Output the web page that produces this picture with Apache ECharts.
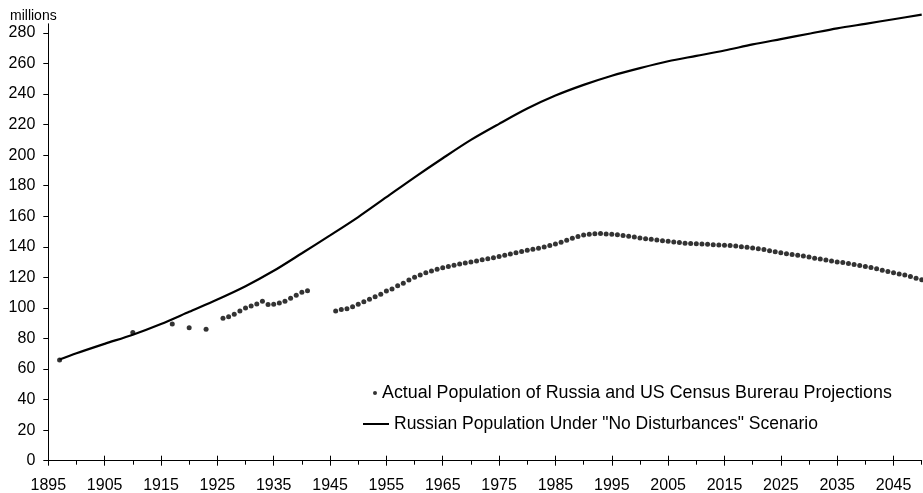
<!DOCTYPE html>
<html>
<head>
<meta charset="utf-8">
<script src="https://cdn.jsdelivr.net/npm/echarts@6/dist/echarts.min.js"></script>
<style>
html,body{margin:0;padding:0;background:#fff;}
#chart{width:923px;height:493px;}
</style>
</head>
<body>
<div id="chart"></div>
<script>
// ---- data ----
const scenarioYears = [1897, 1900, 1905, 1910, 1915, 1920, 1925, 1930, 1935, 1940, 1945, 1950, 1955, 1960, 1965, 1970, 1975, 1980, 1985, 1990, 1995, 2000, 2005, 2010, 2015, 2020, 2025, 2030, 2035, 2040, 2045, 2050];
const scenarioValues = [66.2, 70.3, 76.5, 82.5, 89.5, 97.5, 105.5, 114.2, 124.3, 135.8, 147.5, 159.5, 172.5, 185.5, 198, 210, 220.5, 230.5, 239, 246, 252, 257, 261.5, 265, 268.5, 272.5, 276, 279.5, 283, 286, 289, 292];

const popYears = [1897, 1910, 1917, 1920, 1923,
  1926, 1927, 1928, 1929, 1930, 1931, 1932, 1933, 1934, 1935, 1936, 1937, 1938, 1939, 1940, 1941,
  1946, 1947, 1948, 1949, 1950, 1951, 1952, 1953, 1954, 1955, 1956, 1957, 1958, 1959, 1960, 1961, 1962, 1963, 1964, 1965,
  1966, 1967, 1968, 1969, 1970, 1971, 1972, 1973, 1974, 1975, 1976, 1977, 1978, 1979, 1980, 1981, 1982, 1983, 1984, 1985,
  1986, 1987, 1988, 1989, 1990, 1991, 1992, 1993, 1994, 1995, 1996, 1997, 1998, 1999, 2000, 2001, 2002, 2003, 2004, 2005,
  2006, 2007, 2008, 2009, 2010, 2011, 2012, 2013, 2014, 2015, 2016, 2017, 2018, 2019, 2020, 2021, 2022, 2023, 2024, 2025,
  2026, 2027, 2028, 2029, 2030, 2031, 2032, 2033, 2034, 2035, 2036, 2037, 2038, 2039, 2040, 2041, 2042, 2043, 2044, 2045,
  2046, 2047, 2048, 2049, 2050];
const popValues = [66, 84, 89.5, 87, 86,
  93.2, 94.3, 95.8, 98, 100, 101.3, 102.6, 104.4, 102.3, 102.4, 103.2, 104.3, 106.3, 108.3, 110.2, 111.3,
  98, 98.9, 99.5, 100.8, 102.4, 104.1, 105.7, 107.4, 108.9, 111.1, 112.4, 114.6, 116.1, 118.3, 120.1, 121.6, 123.1, 124.2, 125.3, 126.3,
  127.2, 128, 128.7, 129.4, 130.1, 130.8, 131.5, 132.2, 132.9, 133.7, 134.5, 135.3, 136.2, 137, 137.7, 138.4, 139.1, 139.9, 140.8, 141.9,
  143, 144.3, 145.6, 146.8, 147.8, 148.3, 148.6, 148.8, 148.4, 148.2, 147.9, 147.4, 147, 146.4, 145.8, 145.3, 145, 144.5, 144, 143.6,
  143.2, 142.8, 142.4, 142.2, 142, 141.9, 141.7, 141.4, 141.2, 141, 140.8, 140.5, 140.1, 139.8, 139.3, 138.7, 138.2, 137.4, 136.8, 136.1,
  135.5, 134.9, 134.5, 134, 133.3, 132.6, 132, 131.3, 130.7, 130.1, 129.7, 129.1, 128.4, 127.8, 127.1, 126.4, 125.6, 124.6, 123.8, 123,
  122.2, 121.5, 120.6, 119.5, 118.5];

const xLabelYears = [1895, 1905, 1915, 1925, 1935, 1945, 1955, 1965, 1975, 1985, 1995, 2005, 2015, 2025, 2035, 2045];
const xMinorYears = [1900, 1910, 1920, 1930, 1940, 1950, 1960, 1970, 1980, 1990, 2000, 2010, 2020, 2030, 2040, 2050];
const yTickValues = [0, 20, 40, 60, 80, 100, 120, 140, 160, 180, 200, 220, 240, 260, 280];

const seriesNames = ['Actual Population of Russia and US Census Burerau Projections', 'Russian Population Under "No Disturbances" Scenario'];
const unitLabel = 'millions';

// ---- chart ----
const FONT = '"Liberation Sans", Arial, sans-serif';
const chart = echarts.init(document.getElementById('chart'), null, {renderer: 'canvas'});

const xBase = {
  type: 'value', min: 1895, max: 2050, interval: 5, gridIndex: 0, position: 'bottom', offset: 0,
  splitLine: {show: false}
};

const option = {
  backgroundColor: '#ffffff',
  animation: false,
  textStyle: {fontFamily: FONT},
  title: {
    text: unitLabel, left: 10, top: 9, padding: 0,
    textStyle: {fontSize: 14, fontWeight: 'normal', color: '#000', fontFamily: FONT}
  },
  grid: {left: 48.3, right: 1.3, top: 23.8, bottom: 32.3, containLabel: false, outerBoundsMode: 'none'},
  legend: [
    {
      data: [{name: seriesNames[0], icon: 'circle'}],
      left: 373, top: 384, padding: 0, itemWidth: 4, itemHeight: 4,
      selectedMode: false,
      textStyle: {fontSize: 17.85, color: '#000', fontFamily: FONT}
    },
    {
      data: [{name: seriesNames[1], icon: 'rect'}],
      left: 363, top: 415, padding: 0, itemWidth: 26, itemHeight: 2,
      selectedMode: false,
      textStyle: {fontSize: 17.5, color: '#000', fontFamily: FONT}
    }
  ],
  xAxis: [
    Object.assign({}, xBase, {
      axisLine: {show: true, onZero: false, lineStyle: {color: '#000', width: 1}},
      axisTick: {show: true, inside: false, length: 5, customValues: xLabelYears, lineStyle: {color: '#000'}},
      axisLabel: {show: true, customValues: xLabelYears, margin: 17, fontSize: 16, color: '#000', fontFamily: FONT,
        formatter: v => String(v)}
    }),
    Object.assign({}, xBase, {
      axisLine: {show: false, onZero: false},
      axisTick: {show: true, inside: true, length: 5, customValues: xLabelYears, lineStyle: {color: '#000'}},
      axisLabel: {show: false}
    }),
    Object.assign({}, xBase, {
      axisLine: {show: false, onZero: false},
      axisTick: {show: true, inside: false, length: 4, customValues: xMinorYears, lineStyle: {color: '#000'}},
      axisLabel: {show: false}
    })
  ],
  yAxis: {
    type: 'value', min: 0, max: 286, interval: 20,
    splitLine: {show: false},
    axisLine: {show: true, onZero: false, lineStyle: {color: '#000', width: 1}},
    axisTick: {show: true, inside: false, length: 5, customValues: yTickValues, lineStyle: {color: '#000'}},
    axisLabel: {show: true, customValues: yTickValues, margin: 13, fontSize: 16, color: '#000', fontFamily: FONT,
      padding: [6, 0, 0, 0]}
  },
  series: [
    {
      name: seriesNames[0],
      type: 'scatter',
      xAxisIndex: 0,
      symbol: 'circle',
      symbolSize: 5,
      itemStyle: {color: '#000'},
      data: popYears.map((y, i) => [y, popValues[i]]),
      z: 3
    },
    {
      name: seriesNames[1],
      type: 'line',
      xAxisIndex: 0,
      smooth: 0.3,
      showSymbol: false,
      symbol: 'none',
      clip: false,
      itemStyle: {color: '#000'},
      lineStyle: {color: '#000', width: 2.2},
      data: scenarioYears.map((y, i) => [y, scenarioValues[i]]),
      z: 2
    }
  ]
};
chart.setOption(option);
</script>
</body>
</html>
